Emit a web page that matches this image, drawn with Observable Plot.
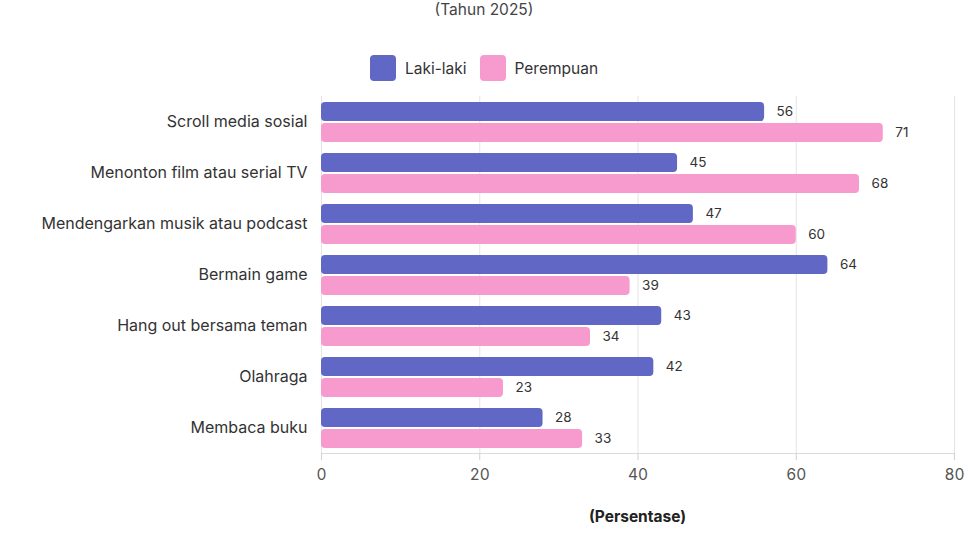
<!DOCTYPE html>
<html>
<head>
<meta charset="utf-8">
<script src="https://cdn.jsdelivr.net/npm/d3@7"></script>
<script src="https://cdn.jsdelivr.net/npm/@observablehq/plot@0.6"></script>
<style>
  html, body { margin: 0; padding: 0; background: #fff; overflow: hidden; }
  body { width: 968px; height: 543px; position: relative; font-family: Inter, "Open Sans", sans-serif; color: #333; }
  #subtitle { position: absolute; left: 0; width: 968px; top: 1px; text-align: center; font-size: 15.5px; line-height: 18px; color: #444; }
  #legend { position: absolute; left: 0; width: 968px; top: 55px; display: flex; justify-content: center; align-items: center; gap: 13px; font-size: 15.5px; color: #333; }
  .item { display: flex; align-items: center; gap: 9px; }
  .sw { width: 26px; height: 26px; border-radius: 4px; }
  #chart { position: absolute; left: 0; top: 85px; }
  #xlabel { position: absolute; left: 321px; width: 633px; top: 507px; text-align: center; font-size: 15.5px; font-weight: bold; color: #222; }
</style>
</head>
<body>
<div id="subtitle">(Tahun 2025)</div>
<div id="legend"></div>
<div id="chart"></div>
<div id="xlabel"></div>
<script>
const categories = ["Scroll media sosial", "Menonton film atau serial TV", "Mendengarkan musik atau podcast", "Bermain game", "Hang out bersama teman", "Olahraga", "Membaca buku"];
const series = ["Laki-laki", "Perempuan"];
const lakiLaki = [56, 45, 47, 64, 43, 42, 28];
const perempuan = [71, 68, 60, 39, 34, 23, 33];
const colors = ["#6067C5", "#F79BCF"];
const xTicks = [0, 20, 40, 60, 80];
const xLabel = "(Persentase)";

document.getElementById("xlabel").textContent = xLabel;

const data = [];
categories.forEach((c, i) => {
  data.push({category: c, gender: series[0], value: lakiLaki[i]});
  data.push({category: c, gender: series[1], value: perempuan[i]});
});

const legend = document.getElementById("legend");
series.forEach((s, i) => {
  const it = document.createElement("div");
  it.className = "item";
  it.innerHTML = `<div class="sw" style="background:${colors[i]}"></div><span>${s}</span>`;
  legend.appendChild(it);
});

const chart = Plot.plot({
  width: 968,
  height: 458,
  marginLeft: 321,
  marginRight: 14,
  marginTop: 9,
  marginBottom: 88,
  style: {fontFamily: "Inter, 'Open Sans', sans-serif", color: "#333", background: "#fff"},
  x: {domain: [0, 80], ticks: xTicks, label: null},
  y: {domain: series, axis: null, paddingInner: 0.1, paddingOuter: 0.25},
  fy: {domain: categories, label: null, padding: 0},
  color: {domain: series, range: colors},
  marks: [
    Plot.gridX(xTicks, {stroke: "#e4e4e4", strokeOpacity: 1}),
    Plot.frame({anchor: "bottom", stroke: "#dcdcdc", facetAnchor: "bottom"}),
    Plot.axisFy({anchor: "left", tickSize: 0, tickPadding: 14, fontSize: 16, fill: "#333", label: null}),
    Plot.axisX(xTicks, {anchor: "bottom", tickSize: 7, tickPadding: 8, stroke: "#d0d0d0", fill: "#555", fontSize: 15.5, label: null}),
    Plot.barX(data, {x: "value", y: "gender", fy: "category", fill: "gender", rx: 4}),
    Plot.text(data, {x: "value", y: "gender", fy: "category", text: d => String(d.value), textAnchor: "start", dx: 12, fontSize: 13.5, fill: "#333"}),
  ]
});
document.getElementById("chart").appendChild(chart);
</script>
</body>
</html>
